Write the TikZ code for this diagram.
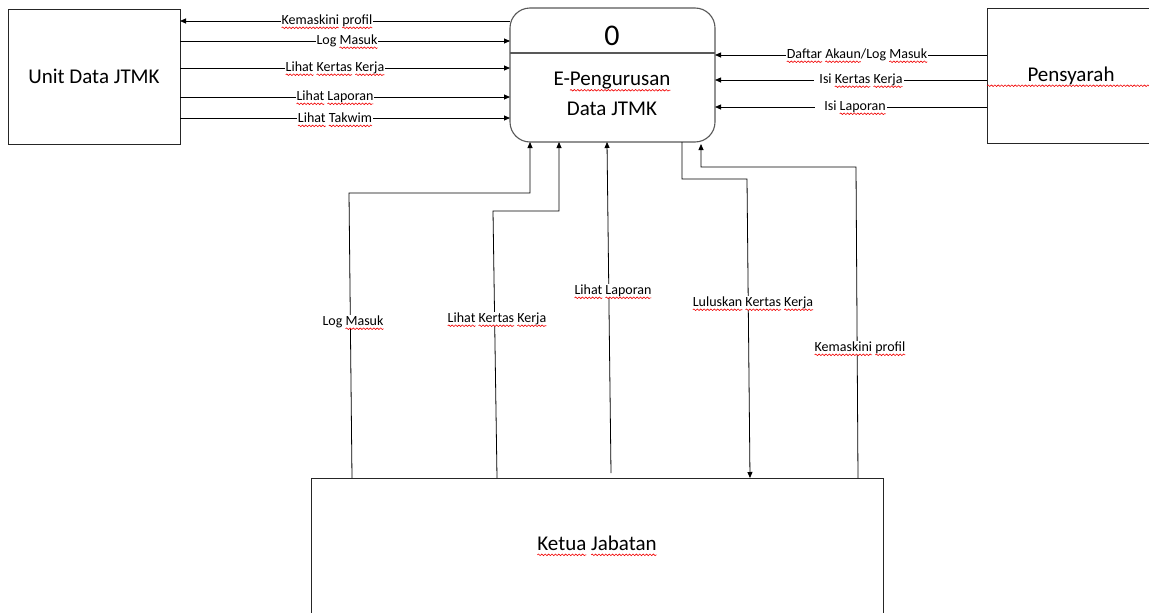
\documentclass[tikz,border=0pt]{standalone}
\usepackage{fontspec}
\setmainfont{Carlito}
\usetikzlibrary{arrows.meta,decorations.pathmorphing}

% red spell-check squiggle under a single word
\newcommand\wavy[1]{\tikz[baseline=(w.base)]{%
  \node[inner sep=0pt,outer sep=0pt] (w) {#1};%
  \draw[spell, overlay] ([yshift=-0.22em]w.base west) -- ([yshift=-0.22em]w.base east);}}

\tikzset{
  spell/.style={draw=red!95!black, line width=0.6pt,
    decorate, decoration={snake, amplitude=0.8pt, segment length=3.4pt}},
  entity/.style={draw=black!85, line width=0.9pt, outer sep=0pt, inner sep=0pt,
    font=\fontsize{21}{25}\selectfont},
  procbox/.style={draw=black!65, line width=1.1pt, rounded corners=20pt,
    outer sep=0pt, inner sep=0pt},
  flow/.style={draw=black, line width=0.8pt, -{Triangle[length=6pt,width=5pt]}},
  lbl/.style={fill=white, inner xsep=1pt, inner ysep=1pt,
    font=\fontsize{14}{16}\selectfont},
  bigtext/.style={font=\fontsize{21}{30}\selectfont, align=center},
}

\begin{document}
\begin{tikzpicture}[x=1pt, y=-1pt]
\useasboundingbox[fill=white] (0,0) rectangle (1149,613);

% external entities and the process
\node[entity, minimum width=172pt, minimum height=135pt] (unit) at (94,76.5) {Unit Data JTMK};
\node[entity, minimum width=168pt, minimum height=135pt] (pens) at (1071,75.5) {\wavy{Pensyarah}};
\node[entity, minimum width=572pt, minimum height=160pt] (ketua) at (597,558) {};
\node[entity, draw=none] (ketuaname) at (597,543) {\wavy{Ketua} \wavy{Jabatan}};

\node[procbox, minimum width=205pt, minimum height=134pt] (proc) at (612.5,75) {};
\draw[draw=black!65, line width=1.1pt] (proc.west |- 0,53) -- (proc.east |- 0,53);
\node[font=\fontsize{30}{34}\selectfont] (procid) at (612,36) {0};
\node[bigtext] (procname) at (612,94) {E-\wavy{Pengurusan}\\Data JTMK};

% flows between Unit Data JTMK and the process
\draw[flow] (proc.west |- 0,21) -- (unit.east |- 0,21);
\draw[flow] (unit.east |- 0,41) -- (proc.west |- 0,41);
\draw[flow] (unit.east |- 0,68) -- (proc.west |- 0,68);
\draw[flow] (unit.east |- 0,97) -- (proc.west |- 0,97);
\draw[flow] (unit.east |- 0,118) -- (proc.west |- 0,118);
\node[lbl] (u1) at (327,21) {\wavy{Kemaskini} \wavy{profil}};
\node[lbl] (u2) at (347,41) {Log \wavy{Masuk}\hspace{4pt}};
\node[lbl] (u3) at (335,68) {\wavy{Lihat} \wavy{Kertas} \wavy{Kerja}};
\node[lbl] (u4) at (335,97) {\wavy{Lihat} \wavy{Laporan}};
\node[lbl] (u5) at (335,118) {\wavy{Lihat} \wavy{Takwim}};

% flows from Pensyarah to the process
\draw[flow] (pens.west |- 0,55) -- (proc.east |- 0,55);
\draw[flow] (pens.west |- 0,80) -- (proc.east |- 0,80);
\draw[flow] (pens.west |- 0,107) -- (proc.east |- 0,107);
\node[lbl] (p1) at (857,55) {\wavy{Daftar} \wavy{Akaun}/Log \wavy{Masuk}};
\node[lbl] (p2) at (859,80) {\hspace{4pt}Isi \wavy{Kertas} \wavy{Kerja}};
\node[lbl] (p3) at (851,107) {\hspace{8pt}Isi \wavy{Laporan}};

% flows between Ketua Jabatan and the process
\coordinate (lapfoot) at (611,473);
\coordinate (kptip) at (701,144);
\draw[flow] (ketua.north -| 352,0) -- (349,193) -| (proc.south -| 530,0);
\draw[flow] (ketua.north -| 497,0) -- (493,211) -| (proc.south -| 559,0);
\draw[flow] (lapfoot) -- (proc.south -| 607,0);
\draw[flow] (proc.south -| 682,0) |- (747,179) -- (ketua.north -| 750,0);
\draw[flow] (ketua.north -| 858,0) -- (856,167) -| (kptip);
\node[lbl] (k1) at (353,322) {Log \wavy{Masuk}};
\node[lbl] (k2) at (497,319) {\wavy{Lihat} \wavy{Kertas} \wavy{Kerja}};
\node[lbl] (k3) at (613,291) {\wavy{Lihat} \wavy{Laporan}};
\node[lbl] (k4) at (753,303) {\wavy{Luluskan} \wavy{Kertas} \wavy{Kerja}};
\node[lbl] (k5) at (860,348) {\wavy{Kemaskini} \wavy{profil}};
\end{tikzpicture}
\end{document}
